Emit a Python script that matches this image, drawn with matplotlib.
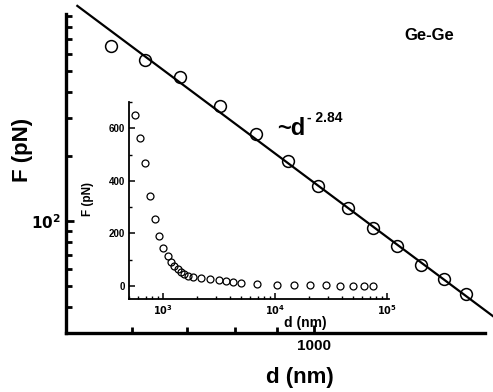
import numpy as np
import matplotlib
matplotlib.use('Agg')
import matplotlib.pyplot as plt
from matplotlib.ticker import FixedLocator, NullFormatter, MultipleLocator

plt.rcParams['font.family'] = ['Liberation Sans', 'DejaVu Sans']
plt.rcParams['font.weight'] = 'bold'
plt.rcParams['mathtext.default'] = 'bf'

# force vs separation, Ge-Ge
d_nm = [565, 622, 685, 767, 850, 930, 1010, 1100, 1180, 1260, 1350, 1440, 1530,
        1670, 1850, 2180, 2630, 3160, 3650, 4220, 4970, 6900, 10400, 14800,
        20500, 28500, 38000, 49700, 62300, 74900]
F_pN = [652, 563, 469, 344, 255, 191, 146, 115, 93, 77, 63, 54, 46,
        38, 34, 30, 27, 23, 19, 15, 11, 8, 4, 2, 3, 2, 1, 1, 1, 1]
n_main = 13          # points shown on the log-log plot
exponent = -2.84
fit_range = [514, 1655]

d = np.array(d_nm, dtype=float)
F = np.array(F_pN, dtype=float)

# power law with fixed exponent, prefactor from the data
logA = np.mean(np.log10(F[:n_main]) - exponent * np.log10(d[:n_main]))
d_fit = np.geomspace(fit_range[0], fit_range[1], 50)
F_fit = 10 ** logA * d_fit ** exponent

fig = plt.figure(figsize=(4.93, 3.92), dpi=100)
ax = fig.add_axes([0.134, 0.1505, 0.850, 0.8135])

ax.plot(d[:n_main], F[:n_main], 'o', mfc='none', mec='black', ms=8.5, mew=1.1)
ax.plot(d_fit, F_fit, '-', color='black', lw=1.6, clip_on=False)

ax.set_xscale('log')
ax.set_yscale('log')
ax.set_xlim(498, 1616)
ax.set_ylim(30.3, 915)

for s in ['top', 'right']:
    ax.spines[s].set_visible(False)
for s in ['left', 'bottom']:
    ax.spines[s].set_linewidth(2.4)

ax.xaxis.set_major_locator(FixedLocator([1000]))
ax.xaxis.set_minor_locator(FixedLocator([600, 700, 800, 900]))
ax.xaxis.set_major_formatter(plt.FixedFormatter(['1000']))
ax.xaxis.set_minor_formatter(NullFormatter())
ax.yaxis.set_major_locator(FixedLocator([100]))
ax.yaxis.set_minor_locator(FixedLocator([40, 50, 60, 70, 80, 90, 200, 300, 400, 500, 600, 700, 800, 900]))
ax.yaxis.set_major_formatter(plt.FixedFormatter([r'$\mathbf{10^2}$']))
ax.yaxis.set_minor_formatter(NullFormatter())
ax.tick_params(which='major', direction='in', length=6, width=2, labelsize=11, pad=4)
ax.tick_params(which='minor', direction='in', length=4, width=2)

ax.set_xlabel('d (nm)', fontsize=16, fontweight='bold')
ax.xaxis.set_label_coords(0.558, -0.108)
ax.set_ylabel('F (pN)', fontsize=16, fontweight='bold')
ax.yaxis.set_label_coords(-0.079, 0.574)

fig.text(0.870, 0.910, 'Ge-Ge', fontsize=12, fontweight='bold', ha='center', va='center')
fig.text(0.562, 0.655, '~d', fontsize=17, fontweight='bold', ha='left', va='baseline')
fig.text(0.622, 0.690, '- 2.84', fontsize=10, fontweight='bold', ha='left', va='baseline')

# inset: linear force vs log distance
ins = fig.add_axes([0.2617, 0.237, 0.527, 0.503])
ins.patch.set_alpha(0)
ins.plot(d, F, 'o', mfc='none', mec='black', ms=5, mew=0.9)
ins.set_xscale('log')
ins.set_xlim(497, 1.04e5)
ins.set_ylim(-50, 700)
for s in ['top', 'right']:
    ins.spines[s].set_visible(False)
for s in ['left', 'bottom']:
    ins.spines[s].set_linewidth(1.3)
ins.yaxis.set_major_locator(MultipleLocator(200))
ins.yaxis.set_minor_locator(MultipleLocator(100))
ins.xaxis.set_major_locator(FixedLocator([1e3, 1e4, 1e5]))
ins.xaxis.set_major_formatter(plt.FixedFormatter([r'$\mathbf{10^3}$', r'$\mathbf{10^4}$', r'$\mathbf{10^5}$']))
ins.xaxis.set_minor_locator(FixedLocator([k * 10 ** e for e in (2, 3, 4) for k in range(2, 10)]))
ins.xaxis.set_minor_formatter(NullFormatter())
ins.tick_params(which='major', direction='in', length=4, width=1.1, labelsize=7, pad=3)
ins.tick_params(which='minor', direction='in', length=2.5, width=1.0)
ins.set_xlabel('d (nm)', fontsize=10, fontweight='bold')
ins.xaxis.set_label_coords(0.68, -0.085)
ins.set_ylabel('F (pN)', fontsize=8.5, fontweight='bold')
ins.yaxis.set_label_coords(-0.135, 0.506)
for lbl in ins.get_yticklabels():
    lbl.set_fontweight('bold')

fig.savefig('out.png', dpi=100)
